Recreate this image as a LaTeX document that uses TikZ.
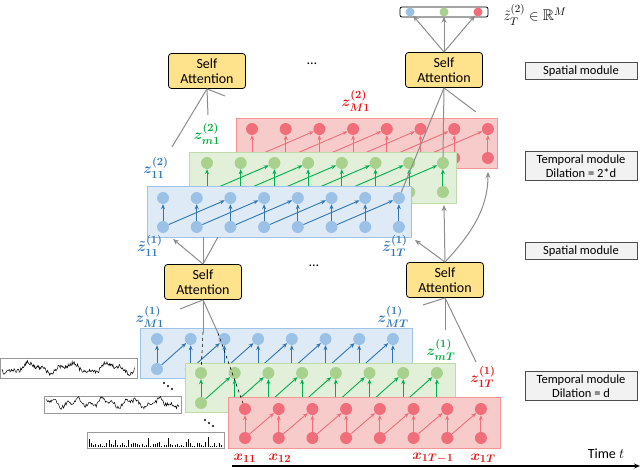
\documentclass[tikz,border=0pt]{standalone}
\usepackage{fontspec}
\setmainfont{Carlito}
\usepackage{amsmath,amssymb}
\usetikzlibrary{arrows.meta}
\definecolor{bF}{RGB}{222,235,247}\definecolor{bB}{RGB}{157,195,230}\definecolor{bN}{RGB}{155,194,230}\definecolor{bA}{RGB}{46,117,182}
\definecolor{gF}{RGB}{226,240,217}\definecolor{gB}{RGB}{190,220,170}\definecolor{gN}{RGB}{169,209,142}\definecolor{gA}{RGB}{0,176,80}
\definecolor{rF}{RGB}{248,203,203}\definecolor{rB}{RGB}{244,150,150}\definecolor{rN}{RGB}{240,110,122}\definecolor{rA}{RGB}{240,110,122}
\definecolor{rL}{RGB}{230,20,20}\definecolor{gL}{RGB}{0,170,60}\definecolor{bL}{RGB}{46,117,182}
\definecolor{saF}{RGB}{255,226,140}
\begin{document}
\begin{tikzpicture}[x=1pt,y=-1pt,
  dot/.style={circle,inner sep=0pt,minimum size=12pt},
  sa/.style={draw=black,line width=0.8pt,rounded corners=3pt,fill=saF,minimum width=77pt,minimum height=35pt,align=center,font=\fontsize{14}{15}\selectfont,inner sep=1pt},
  mod/.style={draw=black!70,fill=black!5,minimum width=112pt,align=center,font=\fontsize{12.5}{14}\selectfont,inner sep=3pt},
  gl/.style={draw=black!45,line width=1pt},
  ga/.style={gl,-{Stealth[length=6pt,width=5pt]}},
  lab/.style={font=\fontsize{15.5}{16}\selectfont\boldmath,inner sep=0pt}]
\useasboundingbox (0,0) rectangle (640,470);
\newcommand\mylayer[9]{%
  \fill[#9F,draw=#9B,line width=0.8pt] (#5,#6) rectangle (#7,#8);
  \foreach \i in {0,...,7}{
    \node[dot,fill=#9N] (#1t\i) at ({#2+33.7*\i},#3) {};
    \node[dot,fill=#9N] (#1b\i) at ({#2+33.7*\i},#4) {};
    \draw[#9A,line width=0.9pt,-{Stealth[length=5pt,width=4pt]}] (#1b\i) -- (#1t\i);}
}
\newcommand\mydiag[3]{%
  \foreach \i in {0,...,#3}{\pgfmathtruncatemacro\j{\i+#2}
    \draw[line width=0.9pt,-{Stealth[length=5pt,width=4pt]},draw=\mycol] (#1b\i) -- (#1t\j);}}
% ---- layer 2 (top)
\mylayer{Rtwo}{252}{129}{158}{236}{118}{497}{168}{r}
\def\mycol{rA}\mydiag{Rtwo}{2}{5}
\mylayer{Gtwo}{207}{163}{192}{189}{152}{456}{203}{g}
\def\mycol{gA}\mydiag{Gtwo}{2}{5}
\mylayer{Btwo}{163}{198}{227}{147}{186}{411}{237}{b}
\def\mycol{bA}\mydiag{Btwo}{2}{5}
% ---- layer 1 (bottom)
\mylayer{Bone}{157}{339}{369}{140}{328}{412}{378}{b}
\def\mycol{bA}\mydiag{Bone}{1}{6}
\mylayer{Gone}{201}{373}{403}{185}{363}{455}{412}{g}
\def\mycol{gA}\mydiag{Gone}{1}{6}
\mylayer{Rone}{245}{409}{438}{228}{397}{500}{448}{r}
\def\mycol{rA}\mydiag{Rone}{1}{6}
% ---- self attention boxes
\node[sa] (sa2l) at (207,71) {Self\\Attention};
\node[sa] (sa2r) at (444,70) {Self\\Attention};
\node[sa] (sa1l) at (203,282) {Self\\Attention};
\node[sa] (sa1r) at (445,280) {Self\\Attention};
\node[font=\fontsize{14}{14}\selectfont] (dots2) at (312,64) {\dots};
\node[font=\fontsize{14}{14}\selectfont] (dots1) at (314,266) {\dots};
% ---- output
\draw[line width=0.8pt,rounded corners=2pt,fill=white] (400,7) rectangle (488,17);
\node[dot,minimum size=9pt,fill=bN] (o1) at (410,12) {};
\node[dot,minimum size=9pt,fill=gN] (o2) at (444,12) {};
\node[dot,minimum size=9pt,fill=rN] (o3) at (478,12) {};
\node[anchor=west,font=\fontsize{15.5}{16}\selectfont] (ol) at (500,15) {$\tilde z_T^{(2)}\in\mathbb{R}^M$};
\draw[ga] (sa2r.north) -- (o1);
\draw[ga] (sa2r.north) -- (o2);
\draw[ga] (sa2r.north) -- (o3);
% ---- gray connectors
\coordinate (a1) at (172,147); \coordinate (a2) at (208,115); \coordinate (a3) at (225,96);
\draw[gl] (sa2l.south) -- (a1); \draw[gl] (sa2l.south) -- (a2); \draw[gl] (sa2l.south) -- (a3);
\coordinate (c3) at (476,112);
\draw[gl] (sa2r.south) -- (Btwot7); \draw[gl] (sa2r.south) -- (Gtwot7); \draw[gl] (sa2r.south) -- (c3);
\coordinate (d1) at (173,239); \coordinate (d2) at (203,237); \coordinate (d3) at (218,237);
\draw[ga] (sa1l.north) -- (d1); \draw[gl] (sa1l.north) -- (d2); \draw[gl] (sa1l.north) -- (d3);
\coordinate (e1) at (415,240); \coordinate (e2) at (444,205); \coordinate (e3) at (488,172);
\draw[ga] (sa1r.north) -- (e1); \draw[ga] (sa1r.north) -- (e2);
\draw[ga] (sa1r.north) .. controls (470,235) and (488,210) .. (e3);
\coordinate (f1) at (180,309); \coordinate (f2) at (203,332); \coordinate (f3) at (218,333);
\draw[gl] (sa1l.south) -- (f1); \draw[gl] (sa1l.south) -- (f2); \draw[gl] (sa1l.south) -- (f3);
\draw[black,dashed,line width=0.6pt] (f2) -- (Gonet0); \draw[black,dashed,line width=0.6pt] (f3) -- (Ronet0);
\coordinate (h1) at (423,305); \coordinate (h2) at (445,330); \coordinate (h3) at (476,362);
\draw[gl] (sa1r.south) -- (h1); \draw[gl] (sa1r.south) -- (h2); \draw[gl] (sa1r.south) -- (h3);
% ---- labels
\node[lab,text=rL] (l1) at (356,101) {$z_{M1}^{(2)}$};
\node[lab,text=gL] (l2) at (207,134) {$z_{m1}^{(2)}$};
\node[lab,text=bL] (l3) at (156,168) {$z_{11}^{(2)}$};
\node[lab,text=bL] (l4) at (150,246) {$\tilde z_{11}^{(1)}$};
\node[lab,text=bL] (l5) at (395,246) {$\tilde z_{1T}^{(1)}$};
\node[lab,text=bL] (l6) at (150,317) {$z_{M1}^{(1)}$};
\node[lab,text=bL] (l7) at (393,317) {$z_{MT}^{(1)}$};
\node[lab,text=gL] (l8) at (441,350) {$z_{mT}^{(1)}$};
\node[lab,text=rL] (l9) at (483,377) {$z_{1T}^{(1)}$};
\node[lab,text=rL] (x1) at (245,458) {$x_{11}$};
\node[lab,text=rL] (x2) at (280,458) {$x_{12}$};
\node[lab,text=rL] (x3) at (433,458) {$x_{1T-1}$};
\node[lab,text=rL] (x4) at (483,458) {$x_{1T}$};
% ---- modules
\node[mod] (m1) at (581,71) {Spatial module};
\node[mod] (m2) at (581,166) {Temporal module\\Dilation = 2*d};
\node[mod] (m3) at (581,251) {Spatial module};
\node[mod] (m4) at (581,386) {Temporal module\\Dilation = d};
% ---- time axis
\coordinate (t0) at (232,466); \coordinate (t1) at (640,466);
\draw[line width=1.6pt,-{Stealth[length=6pt,width=5pt]}] (t0) -- (t1);
\node[font=\fontsize{14}{14}\selectfont] (tl) at (606,454) {Time $t$};
% ---- time series thumbnails
\pgfmathsetseed{7}
\draw[black!40,fill=white,line width=0.5pt] (0,358) rectangle (137,378);
\draw[black,line width=0.5pt] plot[domain=2:135,samples=200,variable=\t] (\t,{368+4*sin(\t*9)+2*sin(\t*23)+4*rnd-2});
\draw[black!40,fill=white,line width=0.5pt] (44,396) rectangle (181,413);
\draw[black,line width=0.5pt] plot[domain=46:179,samples=160,variable=\t] (\t,{403+3*sin(\t*13)+2*sin(\t*31)+4*rnd-2});
\draw[black!40,fill=white,line width=0.5pt] (87,432) rectangle (224,448);
\foreach \k in {0,...,60}{\pgfmathsetmacro\hh{1+6*rnd*rnd+(mod(\k,9)==0)*6}
  \draw[black,line width=0.6pt] ({89+2.2*\k},447) -- ++(0,-\hh);}
\foreach \p in {0,1,2}{\fill ({164+4*\p},{383+3*\p}) circle (1.1pt); \fill ({205+4*\p},{420+3*\p}) circle (1.1pt);}
\end{tikzpicture}
\end{document}
